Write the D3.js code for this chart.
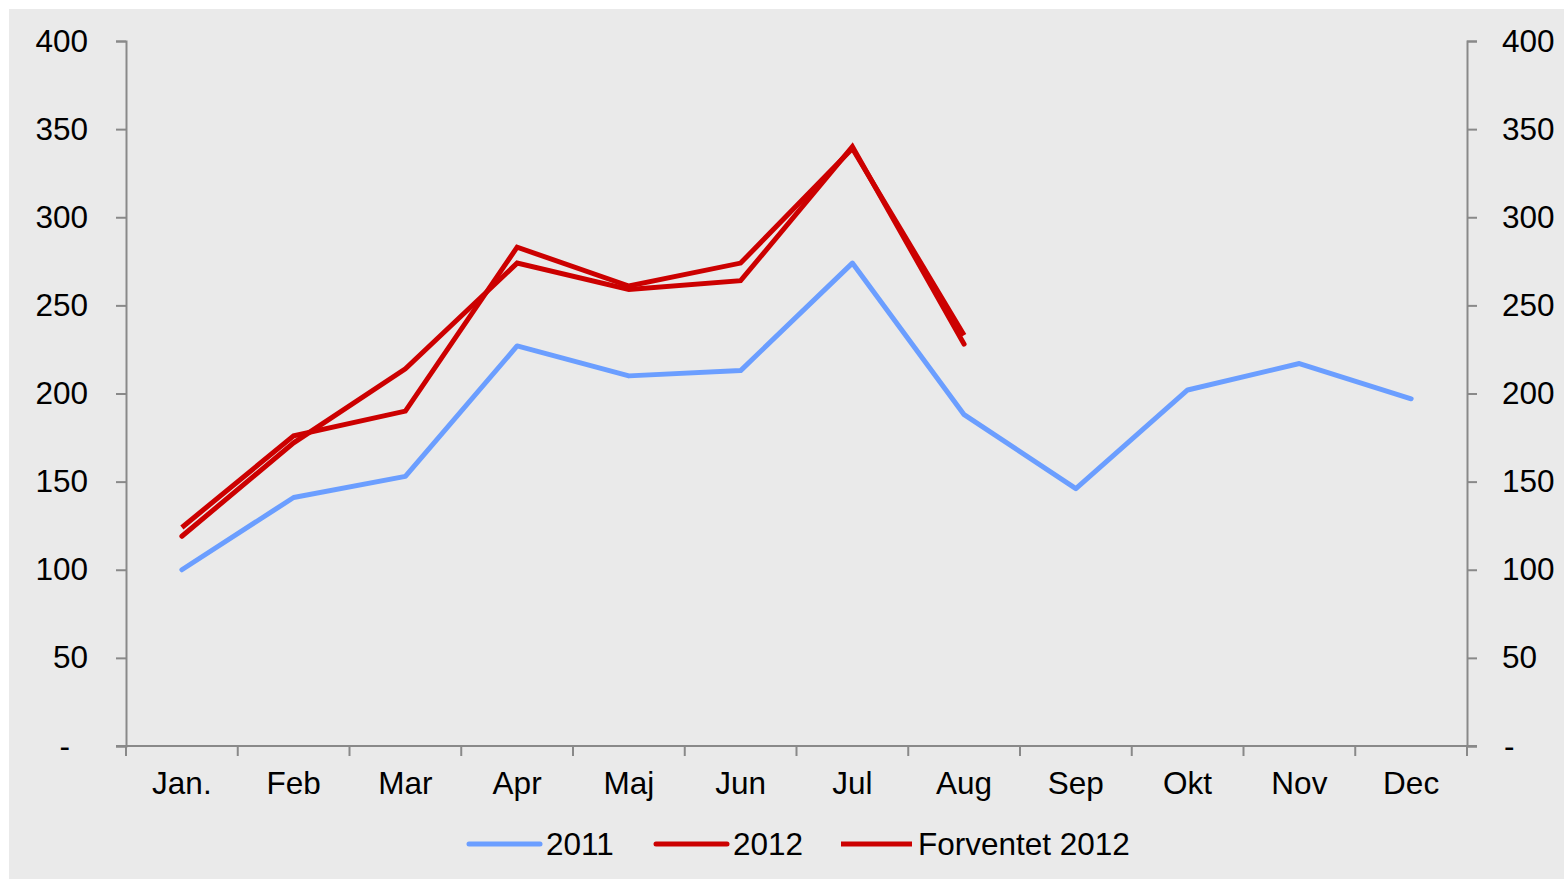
<!DOCTYPE html>
<html>
<head>
<meta charset="utf-8">
<script src="https://cdnjs.cloudflare.com/ajax/libs/d3/7.8.5/d3.min.js"></script>
<style>
  body { margin: 0; background: #fff; }
  text { font-family: "Liberation Sans", Arial, sans-serif; fill: #000; }
</style>
</head>
<body>
<svg id="chart" width="1564" height="879"></svg>
<script>
// chart data
var months = ["Jan.", "Feb", "Mar", "Apr", "Maj", "Jun", "Jul", "Aug", "Sep", "Okt", "Nov", "Dec"]
var values2011 = [100, 141, 153, 227, 210, 213, 274, 188, 146, 202, 217, 197]
var values2012 = [119, 172, 214, 274, 259, 264, 340, 228]
var valuesForventet = [124, 176, 190, 283, 261, 274, 339, 233]
var yTicks = [0, 50, 100, 150, 200, 250, 300, 350, 400]
var seriesNames = ["2011", "2012", "Forventet 2012"]

var svg = d3.select("#chart")

svg.append("rect")
    .attr("x", 9).attr("y", 9)
    .attr("width", 1564 - 9).attr("height", 879 - 9)
    .attr("fill", "#eaeaea")

var plotLeft = 126, plotRight = 1467, plotTop = 41, plotBottom = 746
var fontSize = "31.5px"

var x = d3.scaleBand().domain(months).range([plotLeft, plotRight]).padding(0)
var y = d3.scaleLinear().domain([0, 400]).range([plotBottom, plotTop])

function fmt(v) { return v === 0 ? "-" : String(v) }

var axisColor = "#898989"

// left axis
var gl = svg.append("g").attr("transform", "translate(" + plotLeft + ",0)")
gl.call(d3.axisLeft(y).tickValues(yTicks).tickSize(10).tickFormat(fmt))
gl.select(".domain").attr("stroke", axisColor).attr("stroke-width", 2)
gl.selectAll(".tick line").attr("stroke", axisColor).attr("stroke-width", 2)
gl.selectAll(".tick text")
    .attr("x", function(d) { return d === 0 ? -56 : -38 })
    .style("font-size", fontSize)
    .style("font-family", "Liberation Sans, Arial, sans-serif")
    .attr("fill", "#000")

// right axis
var gr = svg.append("g").attr("transform", "translate(" + plotRight + ",0)")
gr.call(d3.axisRight(y).tickValues(yTicks).tickSize(10).tickFormat(fmt))
gr.select(".domain").attr("stroke", axisColor).attr("stroke-width", 2)
gr.selectAll(".tick line").attr("stroke", axisColor).attr("stroke-width", 2)
gr.selectAll(".tick text")
    .attr("x", function(d) { return d === 0 ? 37 : 35 })
    .style("font-size", fontSize)
    .style("font-family", "Liberation Sans, Arial, sans-serif")
    .attr("fill", "#000")

// bottom axis: ticks between categories
var gb = svg.append("g").attr("transform", "translate(0," + plotBottom + ")")
gb.append("line")
    .attr("x1", plotLeft - 10).attr("x2", plotRight + 10)
    .attr("stroke", axisColor).attr("stroke-width", 2)
var boundaries = months.map(function(m) { return x(m) }).concat([plotRight])
gb.selectAll(".btick").data(boundaries).enter().append("line")
    .attr("x1", function(d) { return d }).attr("x2", function(d) { return d })
    .attr("y1", 0).attr("y2", 10)
    .attr("stroke", axisColor).attr("stroke-width", 2)
gb.selectAll(".blabel").data(months).enter().append("text")
    .attr("x", function(d) { return x(d) + x.bandwidth() / 2 })
    .attr("y", 48)
    .attr("text-anchor", "middle")
    .style("font-size", fontSize)
    .text(function(d) { return d })

// lines
var line = d3.line()
    .x(function(d, i) { return x(months[i]) + x.bandwidth() / 2 })
    .y(function(d) { return y(d) })

svg.append("path").datum(values2011)
    .attr("d", line)
    .attr("fill", "none")
    .attr("stroke", "#6b9eff")
    .attr("stroke-width", 5)
    .attr("stroke-linecap", "round")
    .attr("stroke-linejoin", "round")

svg.append("path").datum(valuesForventet)
    .attr("d", line)
    .attr("fill", "none")
    .attr("stroke", "#cc0000")
    .attr("stroke-width", 5)
    .attr("stroke-linecap", "butt")

svg.append("path").datum(values2012)
    .attr("d", line)
    .attr("fill", "none")
    .attr("stroke", "#cc0000")
    .attr("stroke-width", 5)
    .attr("stroke-linecap", "round")

// legend
var legendItems = [
  {name: seriesNames[0], color: "#6b9eff", cap: "round", x: 469},
  {name: seriesNames[1], color: "#cc0000", cap: "round", x: 656},
  {name: seriesNames[2], color: "#cc0000", cap: "butt", x: 841}
]
var lg = svg.append("g").attr("transform", "translate(0,844)")
lg.selectAll("line").data(legendItems).enter().append("line")
    .attr("x1", function(d) { return d.x }).attr("x2", function(d) { return d.x + 71 })
    .attr("stroke", function(d) { return d.color })
    .attr("stroke-width", 5)
    .attr("stroke-linecap", function(d) { return d.cap })
lg.selectAll("text").data(legendItems).enter().append("text")
    .attr("x", function(d) { return d.x + 77 })
    .attr("y", 11)
    .style("font-size", fontSize)
    .text(function(d) { return d.name })
</script>
</body>
</html>
